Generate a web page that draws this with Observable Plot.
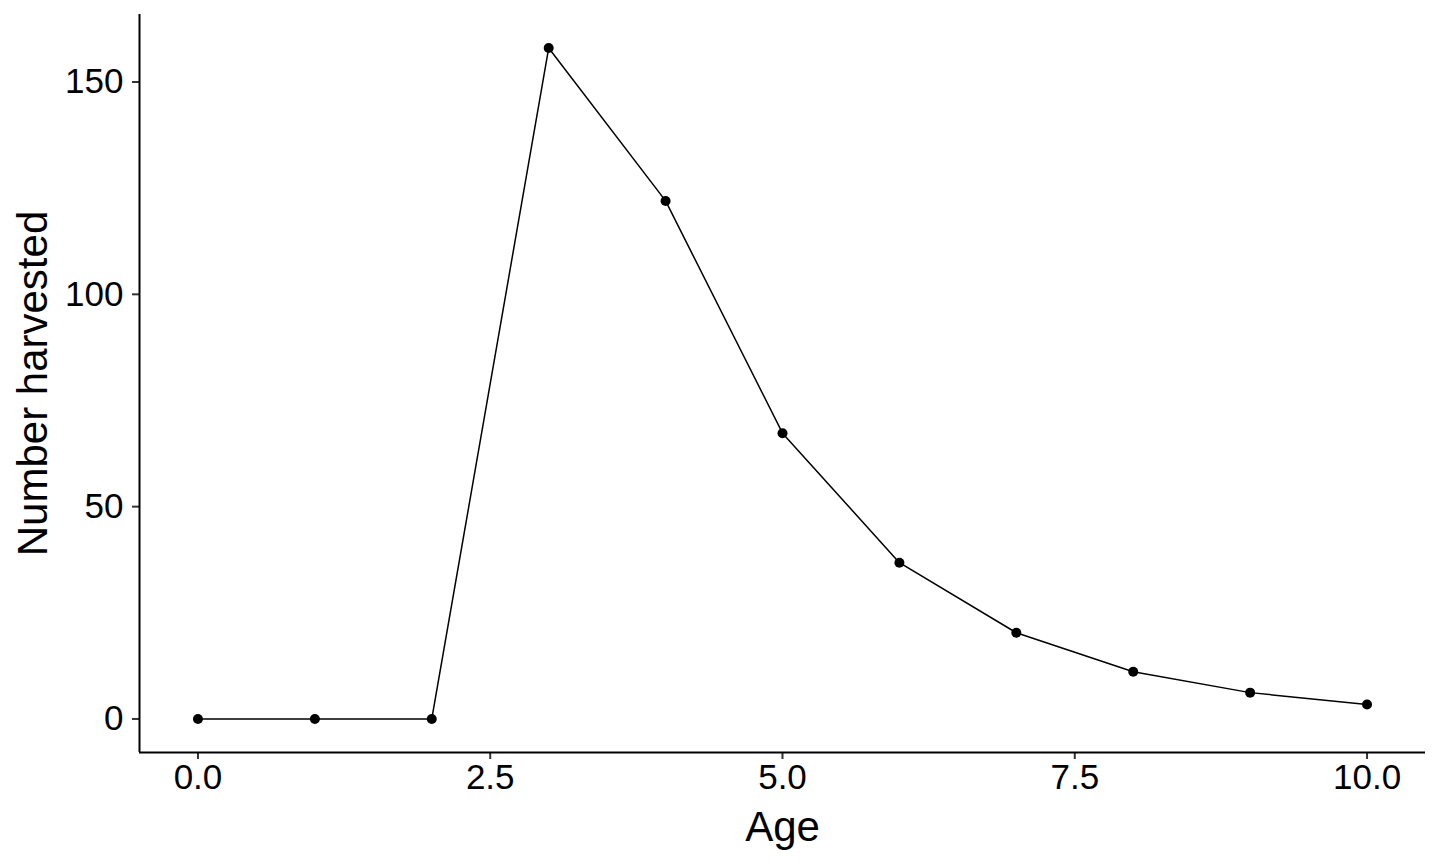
<!DOCTYPE html>
<html>
<head>
<meta charset="utf-8">
<script src="https://cdn.jsdelivr.net/npm/d3@7"></script>
<script src="https://cdn.jsdelivr.net/npm/@observablehq/plot@0.6"></script>
<style>
  html, body { margin: 0; padding: 0; background: #fff; }
  #chart svg { display: block; }
</style>
</head>
<body>
<div id="chart"></div>
<script>
const ages = [0, 1, 2, 3, 4, 5, 6, 7, 8, 9, 10];
const harvested = [0, 0, 0, 158.0, 122.0, 67.3, 36.8, 20.3, 11.1, 6.2, 3.4];
const xTicks = [0, 2.5, 5, 7.5, 10];
const yTicks = [0, 50, 100, 150];
const xTitle = "Age";
const yTitle = "Number harvested";

const data = ages.map((a, i) => ({age: a, n: harvested[i]}));

const yMax = d3.max(harvested), yMin = 0;
const yPad = (yMax - yMin) * 0.05;
const xPad = (d3.max(ages) - d3.min(ages)) * 0.05;
const xDomain = [d3.min(ages) - xPad, d3.max(ages) + xPad];
const yDomain = [yMin - yPad, yMax + yPad];

const chart = Plot.plot({
  width: 1440,
  height: 864,
  marginLeft: 139,
  marginRight: 15,
  marginTop: 14,
  marginBottom: 112,
  style: {fontFamily: "'Liberation Sans', Arial, sans-serif", fontSize: "35px", color: "black", background: "white"},
  x: {domain: xDomain},
  y: {domain: yDomain},
  marks: [
    Plot.axisX({ticks: xTicks, tickFormat: d3.format(".1f"), tickSize: 7, tickPadding: 5, stroke: "#333", strokeWidth: 2, fill: "black", fontSize: 35, label: null}),
    Plot.axisY({ticks: yTicks, tickFormat: d3.format("d"), tickSize: 7, tickPadding: 9, stroke: "#333", strokeWidth: 2, fill: "black", fontSize: 35, label: null}),
    Plot.ruleX([xDomain[0]], {stroke: "black", strokeWidth: 2}),
    Plot.ruleY([yDomain[0]], {stroke: "black", strokeWidth: 2}),
    Plot.line(data, {x: "age", y: "n", stroke: "black", strokeWidth: 1.5}),
    Plot.dot(data, {x: "age", y: "n", r: 5, fill: "black", stroke: "none"}),
    Plot.text([xTitle], {text: d => d, frameAnchor: "bottom", dy: 88, fontSize: 42, fill: "black"}),
    Plot.text([yTitle], {text: d => d, frameAnchor: "left", textAnchor: "middle", dx: -106, rotate: -90, fontSize: 42, fill: "black"})
  ]
});
document.getElementById("chart").appendChild(chart);
</script>
</body>
</html>
